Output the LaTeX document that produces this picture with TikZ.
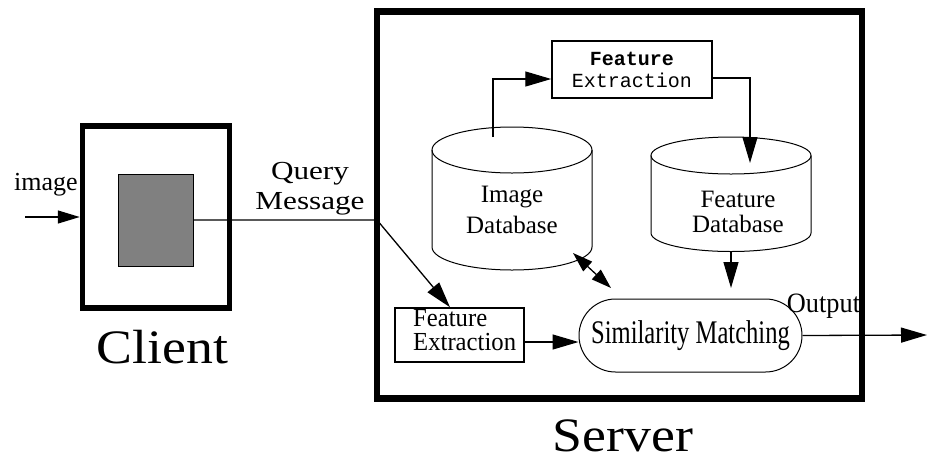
\documentclass[tikz,border=0pt]{standalone}
\usepackage{fontspec}
\usepackage{graphicx}
\setmainfont{Liberation Serif}
\setmonofont{Liberation Mono}
\usetikzlibrary{arrows.meta,shapes.misc,calc}
\newcommand\fs[2]{\fontsize{#1}{#2}\selectfont}
\newcommand\sx[2]{\scalebox{#1}[1]{#2}}
% database drawn as a cylinder: centre x, top ellipse y, bottom arc y, x radius, y radius
\newcommand\dbcylinder[5]{%
  \draw[line width=1pt] (#1,#2) ellipse[x radius=#4, y radius=#5];
  \draw[line width=1pt] ({#1-#4},#2) -- ({#1-#4},#3)
    arc[start angle=180, end angle=0, x radius=#4, y radius=#5] -- ({#1+#4},#2);}
\begin{document}
\begin{tikzpicture}[x=1pt,y=-1pt,
  arr/.style={line width=1.3pt,-{Triangle[length=26pt,width=15pt]}},
  darr/.style={line width=1.3pt,{Triangle[length=20pt,width=13pt]}-{Triangle[length=20pt,width=13pt]}},
  box/.style={draw, line width=1.5pt, inner sep=0pt},
  lbl/.style={inner sep=0pt},
]
\useasboundingbox[fill=white] (0,0) rectangle (927,459);

% ---- client side ----
\node[draw, line width=5.5pt, minimum width=147pt, minimum height=182pt, inner sep=0pt] (client) at (156,217) {};
\node[draw, fill=black!50, line width=0.8pt, minimum width=75pt, minimum height=92pt, inner sep=0pt] (qimg) at (155.5,220) {};
\node[lbl, anchor=base west, font=\fs{26}{30}] (imagelbl) at (14,190) {image};
\coordinate (imgsrc) at (25,217);
\draw[line width=1.3pt,-{Triangle[length=22pt,width=13pt]}] (imgsrc) -- (client.west);
\node[lbl, anchor=base, font=\fs{48}{52}] (clientlbl) at (162.5,363) {\sx{1.12}{Client}};
\node[lbl, font=\fs{26}{30}] (qlbl) at (310,188) {\sx{1.2}{\begin{tabular}{@{}c@{}}Query\\Message\end{tabular}}};

% ---- server contents ----
\node[box, minimum width=160pt, minimum height=57pt, font=\ttfamily\fs{20}{22}, align=center] (fe1) at (632,69.5) {\textbf{Feature}\\Extraction};

\dbcylinder{512}{150}{247}{80}{23}
\node[lbl, font=\fs{25}{31}, align=center] (imgdb) at (512,209.5) {Image\\Database};
\dbcylinder{731}{155.5}{233}{80}{18.5}
\node[lbl, font=\fs{25}{25}, align=center] (featdb) at (738,212) {Feature\\Database};

\node[box, minimum width=129pt, minimum height=54pt] (fe2) at (459.5,335) {};
\node[lbl, anchor=base west, font=\fs{26}{24}] (fe2lbl) at (413,326)
  {\sx{0.95}{\begin{tabular}[t]{@{}l@{}}Feature\\Extraction\end{tabular}}};
\node[draw, rounded rectangle, line width=1pt, minimum width=223pt, minimum height=73pt, inner sep=0pt, font=\fs{33}{36}] (sim) at (690.5,335.5) {\sx{0.745}{Similarity Matching}};
\node[lbl, anchor=base, font=\fs{28}{30}] (outlbl) at (823.5,312) {\sx{0.94}{Output}};

% connector end points
\coordinate (qturn) at (377,220);
\coordinate (imgtap) at (493,137);
\coordinate (fdbin) at (750,163);
\coordinate (fdbout) at (731,251);
\coordinate (simin) at (731,288);
\coordinate (dbport) at (573,253);
\coordinate (simport) at (611,288);
\coordinate (outend) at (927,335);

\draw[arr] (qimg.east) -- (qturn) -- ([xshift=-9.5pt]fe2.north);
\draw[arr] (imgtap) |- ([yshift=-9.5pt]fe1.west);
\draw[arr] ([yshift=-8.5pt]fe1.east) -| (fdbin);
\draw[arr] (fdbout) -- (simin);
\draw[darr] (dbport) -- (simport);
\draw[arr] ([yshift=-7pt]fe2.east) -- ([yshift=-7pt]fe2.east -| sim.west);
\draw[arr] (sim.east) -- (outend);

% ---- server frame ----
\node[draw, line width=6.5pt, minimum width=485pt, minimum height=387pt, inner sep=0pt] (server) at (619.5,205) {};
\node[lbl, anchor=base, font=\fs{48}{52}] (serverlbl) at (623,451) {\sx{1.12}{Server}};
\end{tikzpicture}
\end{document}
